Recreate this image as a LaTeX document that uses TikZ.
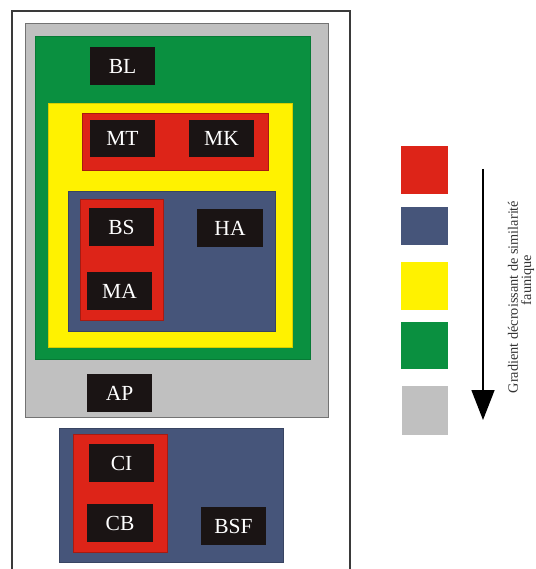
\documentclass[tikz,border=0pt]{standalone}
\usepackage{fontspec}
\setmainfont{Liberation Serif}
\usetikzlibrary{arrows.meta}

\definecolor{zred}{HTML}{DD2418}
\definecolor{zblue}{HTML}{46557A}
\definecolor{zyellow}{HTML}{FFF200}
\definecolor{zgreen}{HTML}{0A9040}
\definecolor{zgray}{HTML}{C0C0C0}
\definecolor{zblack}{HTML}{1A1414}
\definecolor{zframe}{HTML}{3A3A3A}

% a box given by its corners (x1,y1) and (x2,y2), y measured downwards
\newcommand\zonebox[7]{%
  \node[#1, minimum width={(#5-#3)*1pt}, minimum height={(#6-#4)*1pt}]
    (#2) at ({(#3+#5)/2},{(#4+#6)/2}) {#7};}

\begin{document}
\begin{tikzpicture}[x=1pt, y=-1pt,
  zone/.style={rectangle, inner sep=0pt, outer sep=0pt, line width=0.6pt},
  redzone/.style={zone, fill=zred, draw=zred!75!black},
  bluezone/.style={zone, fill=zblue, draw=zblue!80!black},
  yellowzone/.style={zone, fill=zyellow, draw=zyellow!85!black},
  greenzone/.style={zone, fill=zgreen, draw=zgreen!85!black},
  grayzone/.style={zone, fill=zgray, draw=black!55},
  site/.style={rectangle, inner sep=0pt, outer sep=0pt, fill=zblack,
    text=white, font=\fontsize{21.5}{21.5}\selectfont},
  swatch/.style={rectangle, inner sep=0pt, outer sep=0pt},
  gradlabel/.style={rotate=90, inner sep=0pt, text=black!80,
    font=\fontsize{14.3}{15}\selectfont}
]
\useasboundingbox (0,0) rectangle (535,569);
\begin{scope}
\clip (0,0) rectangle (535,569);
% outer frame
\draw[zframe, line width=1.4pt, fill=white] (12,11) rectangle (350,580);
\end{scope}

% nested zones, upper block
\zonebox{grayzone}{gray}{25}{23}{328}{417}{}
\zonebox{greenzone}{green}{35}{36}{310}{359}{}
\zonebox{yellowzone}{yellow}{48}{103}{292}{347}{}
\zonebox{redzone}{redtop}{82}{113}{268}{170}{}
\zonebox{bluezone}{blue}{68}{191}{275}{331}{}
\zonebox{redzone}{redleft}{80}{199}{163}{320}{}

% sites, upper block
\zonebox{site}{BL}{90}{47}{155}{85}{BL}
\zonebox{site}{MT}{90}{120}{155}{157}{MT}
\zonebox{site}{MK}{189}{120}{254}{157}{MK}
\zonebox{site}{BS}{89}{208}{154}{246}{BS}
\zonebox{site}{HA}{197}{209}{263}{247}{HA}
\zonebox{site}{MA}{87}{272}{152}{310}{MA}
\zonebox{site}{AP}{87}{374}{152}{412}{AP}

% lower block
\zonebox{bluezone}{bluelow}{59}{428}{283}{562}{}
\zonebox{redzone}{redlow}{73}{434}{167}{552}{}
\zonebox{site}{CI}{89}{444}{154}{482}{CI}
\zonebox{site}{CB}{87}{504}{153}{542}{CB}
\zonebox{site}{BSF}{201}{507}{266}{545}{BSF}

% colour key
\zonebox{swatch, fill=zred}{keyred}{401}{146}{448}{194}{}
\zonebox{swatch, fill=zblue}{keyblue}{401}{207}{448}{245}{}
\zonebox{swatch, fill=zyellow}{keyyellow}{401}{262}{448}{310}{}
\zonebox{swatch, fill=zgreen}{keygreen}{401}{322}{448}{369}{}
\zonebox{swatch, fill=zgray}{keygray}{402}{386}{448}{435}{}

% gradient arrow
\coordinate (gradtop) at (483,169);
\coordinate (gradtip) at (483,420);
\draw[line width=1.5pt, -{Triangle[length=30pt, width=23pt]}] (gradtop) -- (gradtip);
\node[gradlabel] (gradline1) at (513,297) {Gradient décroissant de similarité};
\node[gradlabel] (gradline2) at (527.5,280) {faunique};
\end{tikzpicture}
\end{document}
